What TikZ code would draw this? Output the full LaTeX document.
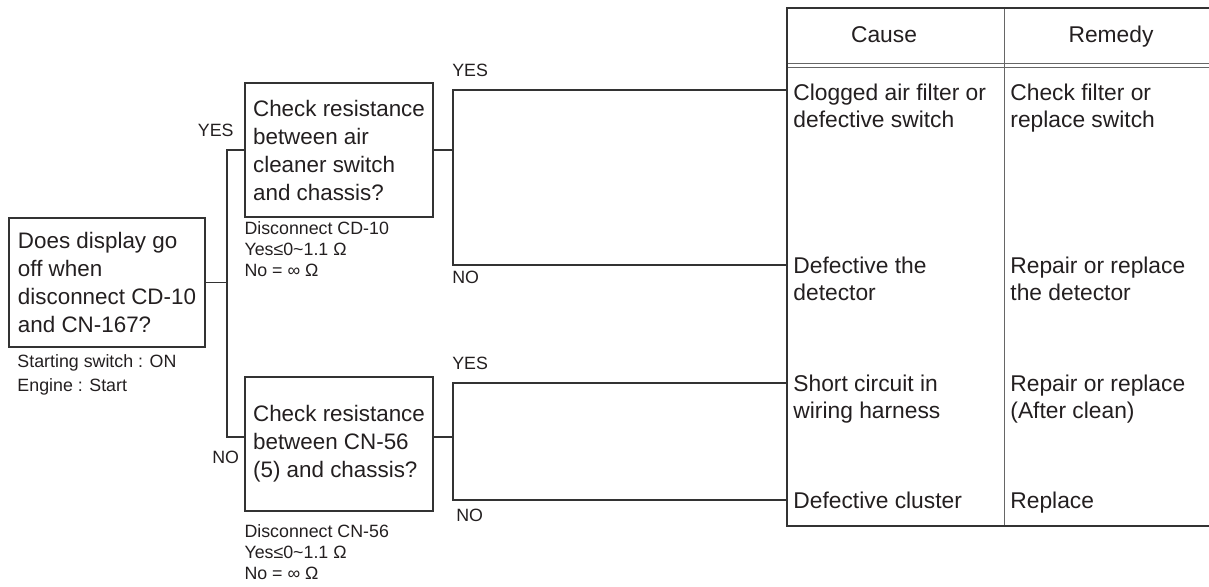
\documentclass[tikz,border=0pt]{standalone}
\usepackage{fontspec}
\setmainfont{Liberation Sans}
\usetikzlibrary{positioning}
\definecolor{inkdark}{HTML}{231F20}
\definecolor{ruledark}{HTML}{333333}
\definecolor{rulegray}{HTML}{666666}
\tikzset{
  question/.style={
    draw=ruledark,
    line width=0.9pt,
    align=left,
    inner sep=0pt,
    text=inkdark,
    font=\fontsize{11.2}{14}\selectfont
  },
  condition/.style={
    align=left,
    inner sep=0pt,
    text=inkdark,
    font=\fontsize{8.9}{10.5}\selectfont
  },
  answer/.style={
    inner sep=0pt,
    text=inkdark,
    font=\fontsize{8.9}{10.5}\selectfont
  },
  cell/.style={
    align=left,
    inner sep=0pt,
    anchor=north west,
    text=inkdark,
    font=\fontsize{11.4}{13.5}\selectfont
  },
  cellhead/.style={
    inner sep=0pt,
    anchor=base,
    text=inkdark,
    font=\fontsize{11.4}{13.5}\selectfont
  },
  branch/.style={
    draw=ruledark,
    line width=0.65pt
  },
  tableframe/.style={
    draw=ruledark,
    line width=0.9pt
  },
  tablerule/.style={
    draw=rulegray,
    line width=0.5pt
  }
}

\begin{document}
\begin{tikzpicture}[x=0.5pt, y=-0.5pt]
    \useasboundingbox (0,0) rectangle (1209,587);
    % questions
    \node[question, minimum width=98pt, minimum height=64.5pt] (q0) at (107,282.5) {Does display go\\off when\\disconnect CD-10\\and CN-167?};
    \node[question, minimum width=94pt, minimum height=67pt] (q1) at (339,150) {Check resistance\\between air\\cleaner switch\\and chassis?};
    \node[question, minimum width=94pt, minimum height=67pt] (q2) at (339,444) {Check resistance\\between CN-56\\(5) and chassis?};
    \node[condition, font=\fontsize{8.9}{12}\selectfont, below right=3.25pt and 4.5pt of q0.south west] (n0) {Starting switch : ON\\Engine : Start};
    \node[condition, below right=1.75pt and 0pt of q1.south west] (n1) {Disconnect CD-10\\Yes≤0\textasciitilde1.1 Ω\\No = ∞ Ω};
    \node[condition, below right=6.25pt and 0pt of q2.south west] (n2) {Disconnect CN-56\\Yes≤0\textasciitilde1.1 Ω\\No = ∞ Ω};
    % cause / remedy table
    \draw[tablerule] (787,64) -- (1209,64) (787,68) -- (1209,68);
    \draw[tablerule] (1004,8) -- (1004,526);
    \draw[tableframe] (1209,8) -- (787,8) -- (787,526) -- (1209,526);
    \node[cellhead] (hcause) at (884,43) {Cause};
    \node[cellhead] (hremedy) at (1111,43) {Remedy};
    \node[cell] (cause1) at (793,84) {Clogged air filter or\\defective switch};
    \node[cell] (remedy1) at (1010,84) {Check filter or\\replace switch};
    \node[cell] (cause2) at (793,257) {Defective the\\detector};
    \node[cell] (remedy2) at (1010,257) {Repair or replace\\the detector};
    \node[cell] (cause3) at (793,375) {Short circuit in\\wiring harness};
    \node[cell] (remedy3) at (1010,375) {Repair or replace\\(After clean)};
    \node[cell] (cause4) at (793,492) {Defective cluster};
    \node[cell] (remedy4) at (1010,492) {Replace};
    \coordinate (t1) at (787,90);
    \coordinate (t2) at (787,265);
    \coordinate (t3) at (787,383);
    \coordinate (t4) at (787,500);
    % branches
    \draw[branch] (q0.east) -- ++(21,0) coordinate (j0);
    \draw[branch] (j0) |- (q1.west);
    \draw[branch] (j0) |- ([yshift=3.5pt]q2.west);
    \draw[branch] (q1.east) -- ++(19,0) coordinate (j1);
    \draw[branch] (j1) |- (t1);
    \draw[branch] (j1) |- (t2);
    \draw[branch] ([yshift=3.5pt]q2.east) -- ++(19,0) coordinate (j2);
    \draw[branch] (j2) |- (t3);
    \draw[branch] (j2) |- (t4);
    \coordinate (c1) at (j0 |- q1.west);
    \coordinate (c2) at (j0 |- q2.west);
    \coordinate (c3) at (j1 |- t1);
    \coordinate (c4) at (j1 |- t2);
    \coordinate (c5) at (j2 |- t3);
    \coordinate (c6) at (j2 |- t4);
    \node[answer, anchor=base east] at ([shift={(7,-13.5)}]c1) {YES};
    \node[answer, anchor=base west] at ([shift={(-15,19.5)}]c2) {NO};
    \node[answer, anchor=base west] at ([shift={(-1,-13.5)}]c3) {YES};
    \node[answer, anchor=base west] at ([shift={(-1,18.5)}]c4) {NO};
    \node[answer, anchor=base west] at ([shift={(-1,-13)}]c5) {YES};
    \node[answer, anchor=base west] at ([shift={(3,21.5)}]c6) {NO};
\end{tikzpicture}
\end{document}
